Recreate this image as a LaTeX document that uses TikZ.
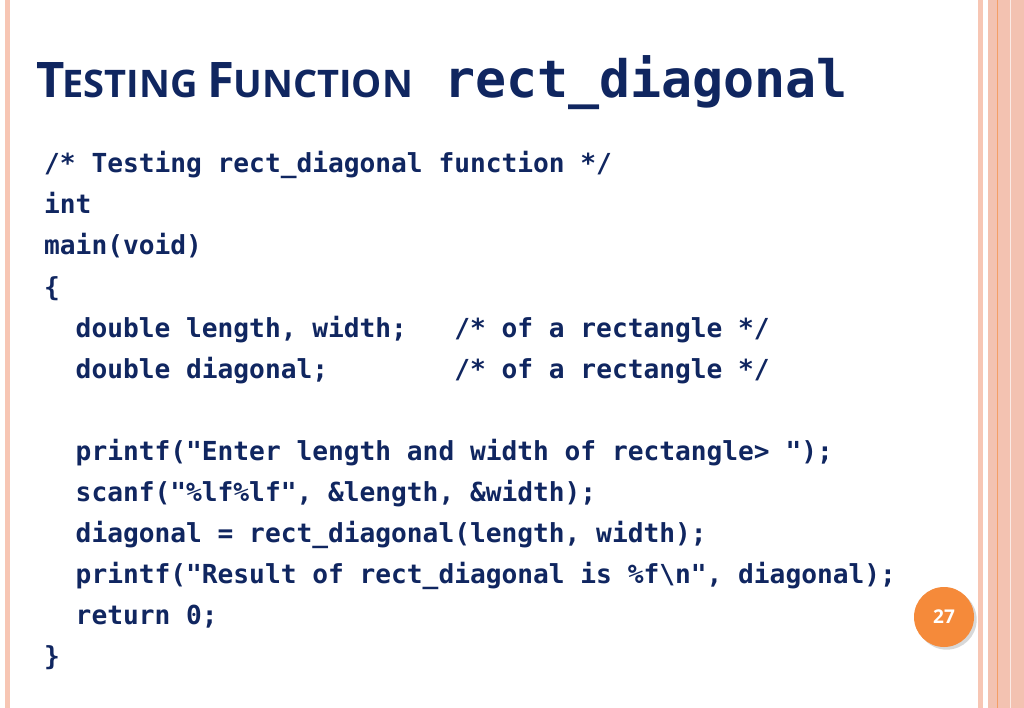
\documentclass[tikz,border=0pt]{standalone}
\usepackage{fontspec}
\setmainfont{Open Sans}
\newfontfamily\codefont{DejaVu Sans Mono}
\usetikzlibrary{shadows}
\definecolor{navy}{HTML}{102660}
\definecolor{pinkl}{HTML}{F7C6B4}
\definecolor{salmon}{HTML}{F2BBA8}
\definecolor{orangeb}{HTML}{F58A3A}
\begin{document}
\begin{tikzpicture}[x=1pt,y=-1pt,
  code/.style={anchor=base west,inner sep=0pt,text=navy,font=\codefont\bfseries\fontsize{26.2}{30}\selectfont}]
\useasboundingbox (0,0) rectangle (1024,708);
\fill[white] (0,0) rectangle (1024,708);
\fill[pinkl] (5,0) rectangle (10,708);
\fill[pinkl] (978,0) rectangle (983,708);
\fill[salmon!90!white] (988,0) rectangle (1024,708);
\draw[orangeb!60!salmon,line width=1pt] (997,0) -- (997,708);
\draw[white!70!salmon,line width=1pt] (1010,0) -- (1010,708);
\node[anchor=base west,inner sep=0pt,text=navy,font=\bfseries] (t1) at (36,98)
 {\fontsize{49}{50}\selectfont T\kern-2pt\fontsize{38}{40}\selectfont ESTING \fontsize{49}{50}\selectfont F\kern-1pt\fontsize{38}{40}\selectfont UNCTION};
\node[anchor=base west,inner sep=0pt,text=navy,font=\codefont\bfseries\fontsize{51.6}{56}\selectfont] (t2) at (444,98) {rect\_diagonal};
\node[code] (l1) at (44,173) {/* Testing rect\_diagonal function */};
\node[code] (l2) at (44,214) {int};
\node[code] (l3) at (44,255) {main(void)};
\node[code] (l4) at (44,296) {\{};
\node[code] (l5) at (44,337) {\ \ double length, width;\ \ \ /* of a rectangle */};
\node[code] (l6) at (44,378) {\ \ double diagonal;\ \ \ \ \ \ \ \ /* of a rectangle */};
\node[code] (l7) at (44,460) {\ \ printf("Enter length and width of rectangle> ");};
\node[code] (l8) at (44,501) {\ \ scanf("\%lf\%lf", \&length, \&width);};
\node[code] (l9) at (44,542) {\ \ diagonal = rect\_diagonal(length, width);};
\node[code] (l10) at (44,583) {\ \ printf("Result of rect\_diagonal is \%f\textbackslash n", diagonal);};
\node[code] (l11) at (44,624) {\ \ return 0;};
\node[code] (l12) at (44,665) {\}};
\node[circle,fill=orangeb,minimum size=60pt,inner sep=0pt,text=white,font=\bfseries\fontsize{19}{20}\selectfont,drop shadow={opacity=0.3}] (pg) at (944,617) {27};
\end{tikzpicture}
\end{document}
